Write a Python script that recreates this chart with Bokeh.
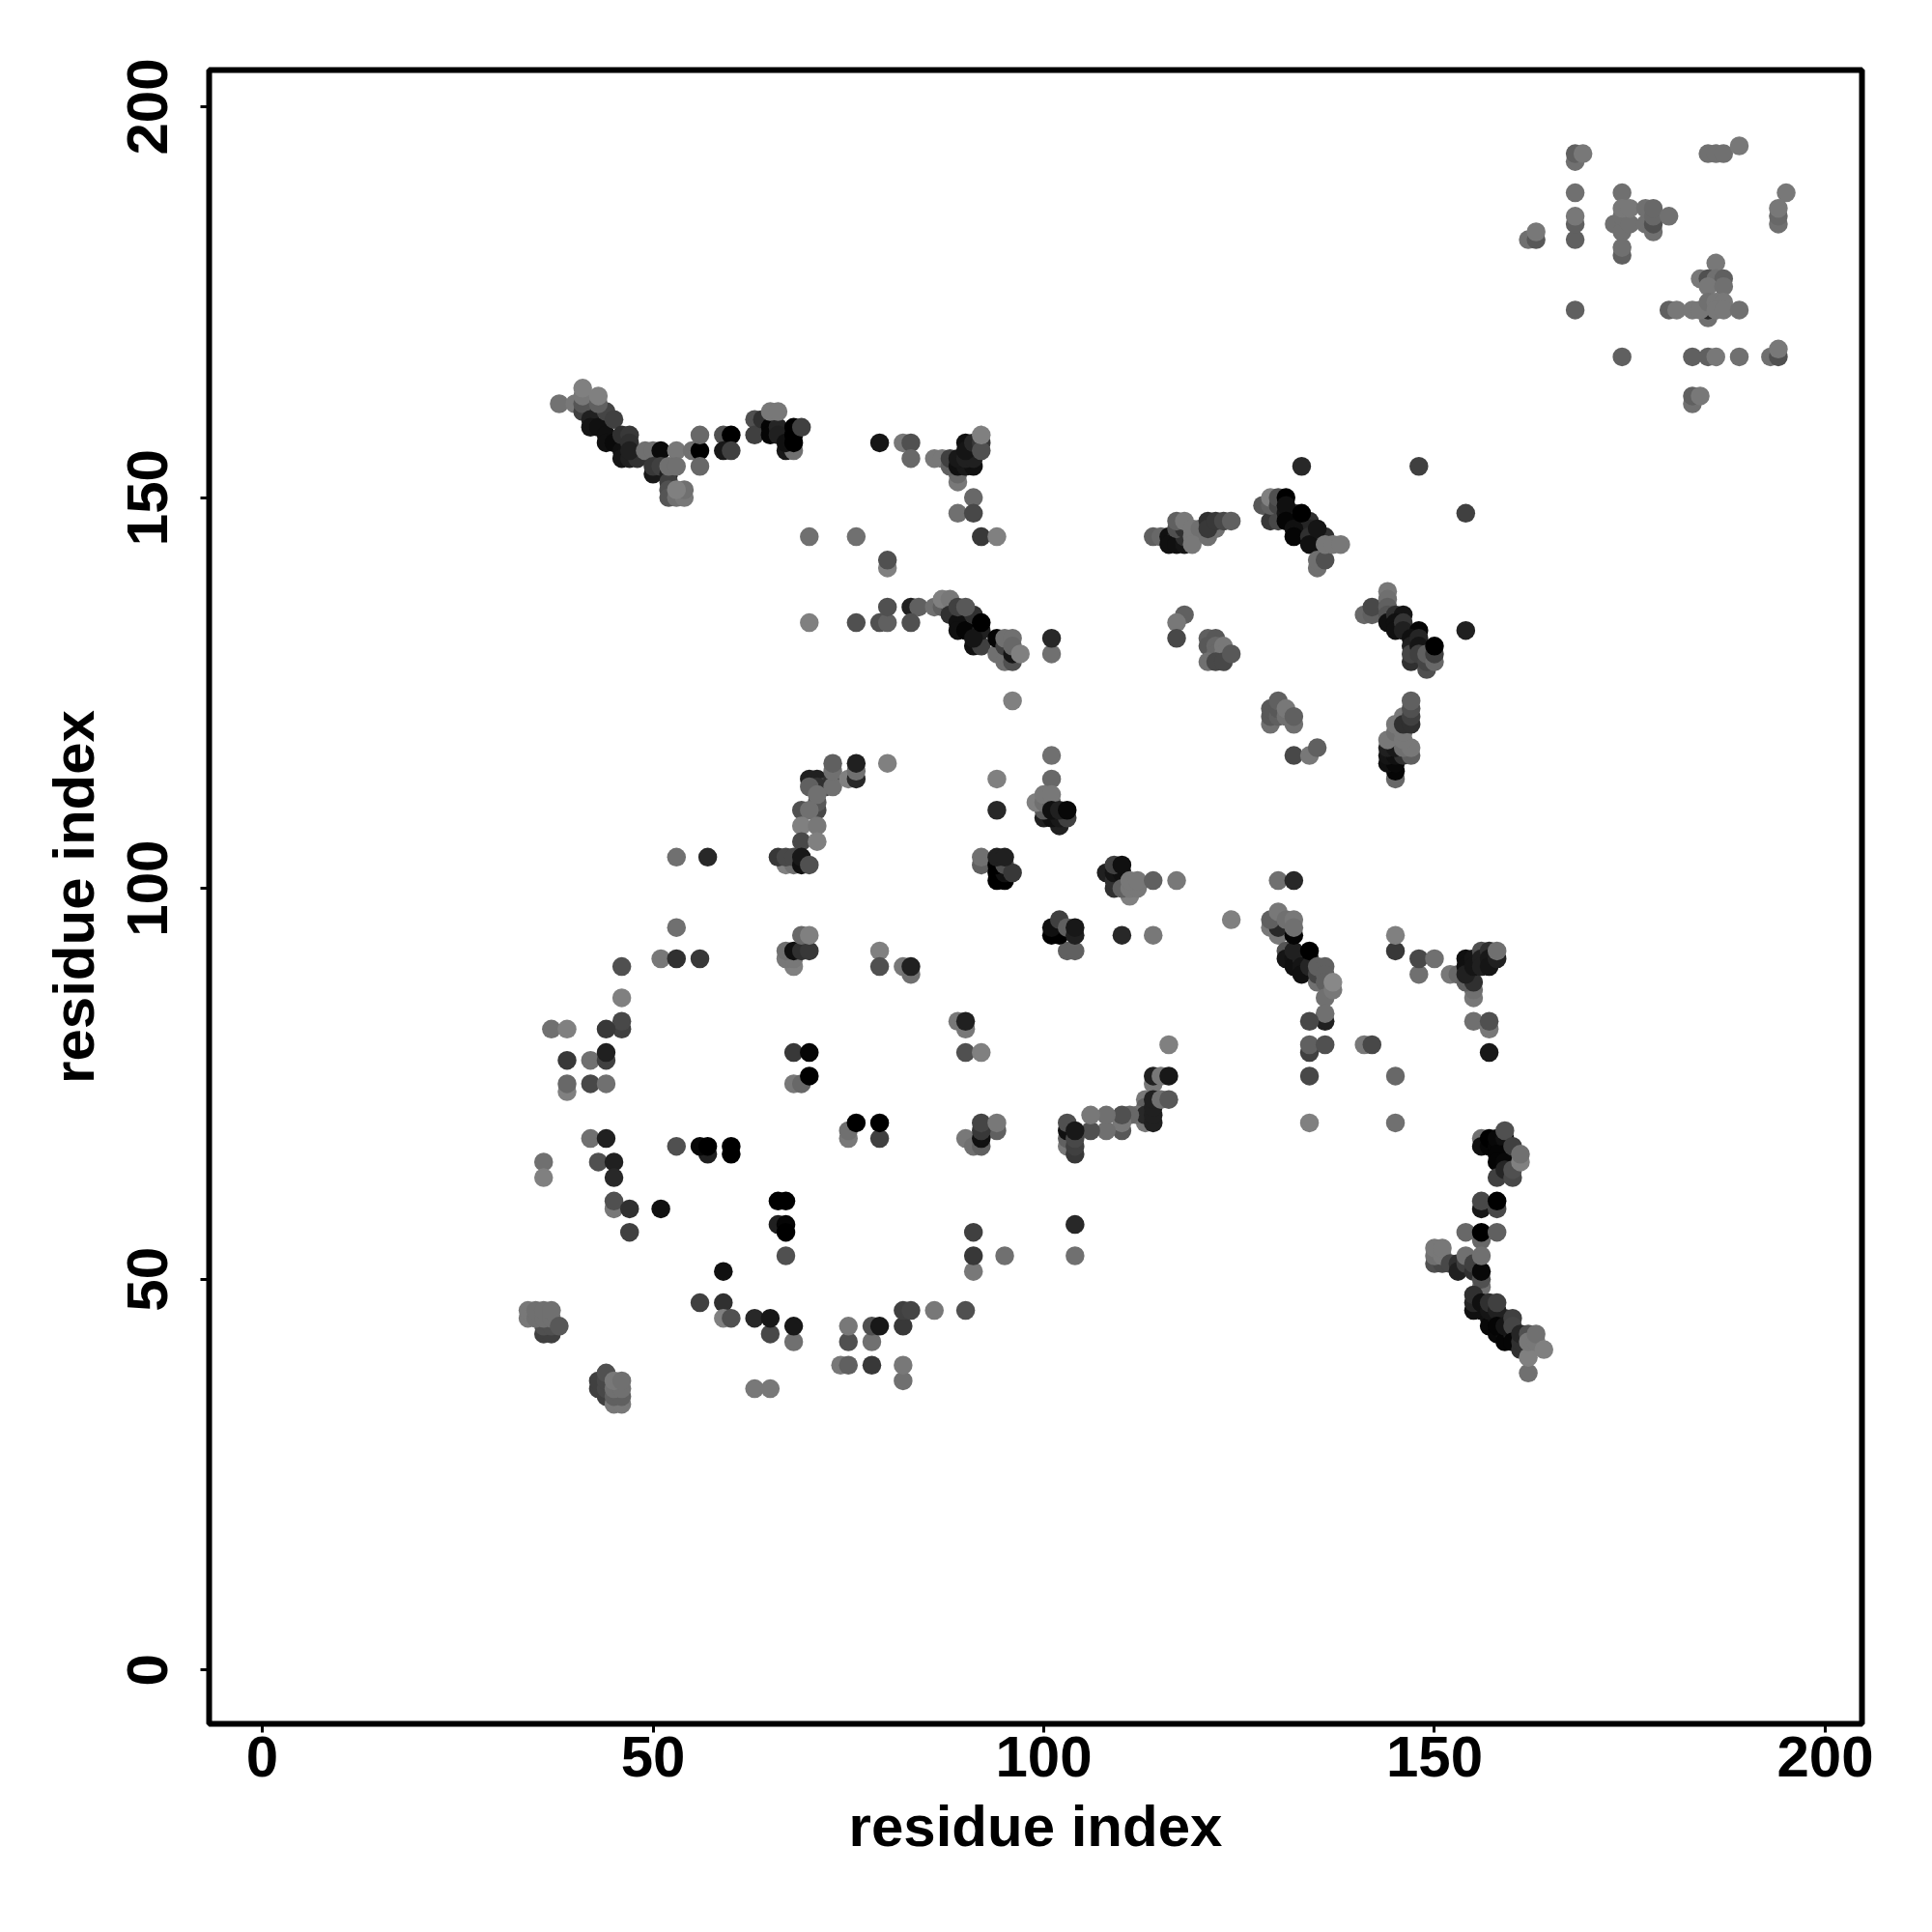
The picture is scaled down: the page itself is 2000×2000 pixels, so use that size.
from bokeh.plotting import figure
from bokeh.models import FixedTicker, Range1d
from bokeh.embed import file_html
from bokeh.resources import INLINE

TICKS = [0, 50, 100, 150, 200]
AXIS_LABEL = "residue index"

# (residue x, residue y, grey level), cluster by cluster
top_left = [(38,162,0x72),(40,162,0x78),(41,161,0x40),(41,162,0x55),(42,160,0x20),(42,159,0x15),(43,159,0x10),(44,158,0x10),
 (44,157,0x10),(45,157,0x0a),(46,156,0x10),(46,155,0x15),(47,155,0x20),(48,155,0x30),(44,161,0x45),(45,160,0x40),(46,158,0x30),(47,158,0x38),(47,157,0x30),(47,156,0x20),
 (41,163,0x78),(41,164,0x80),(43,162,0x60),(43,163,0x80),(49,156,0x70),(50,156,0x70),(51,156,0x0a),(53,156,0x78),(55,156,0x70),
 (56,156,0x00),(56,158,0x68),(56,154,0x68),(59,158,0x50),(60,158,0x00),(59,156,0x18),(60,156,0x40),
 (50,153,0x18),(50,154,0x38),(51,154,0x40),(52,153,0x20),(52,152,0x40),(52,151,0x50),(52,150,0x55),(52,154,0x70),(53,154,0x70),(53,150,0x70),(54,150,0x78),(54,151,0x70),(53,151,0x80)]
top_mid = [(63,160,0x50),(63,158,0x40),(64,160,0x30),(65,159,0x05),(65,158,0x05),(66,159,0x25),(66,158,0x20),(67,156,0x18),(68,156,0x70),(67,157,0x10),(68,157,0x00),(68,158,0x00),(68,159,0x00),(69,159,0x40),(65,161,0x78),(66,161,0x78)]
top_v = [(79,157,0x15),(82,157,0x78),(83,157,0x50),(83,155,0x68),(86,155,0x78),(87,155,0x78),(89,152,0x78),(89,153,0x68),(88,154,0x60),(88,155,0x40),
 (89,154,0x10),(90,154,0x18),(91,154,0x10),(89,155,0x18),(90,155,0x20),(91,155,0x20),(90,157,0x10),(90,156,0x15),(91,157,0x28),(92,157,0x38),(92,156,0x50),(92,158,0x80),
 (91,150,0x68),(89,148,0x70),(91,148,0x48),(92,145,0x38),(94,145,0x80),(70,145,0x70),(76,145,0x70),(80,141,0x80),(80,142,0x50)]
row_134 = [(70,134,0x80),(76,134,0x50),(79,134,0x50),(80,134,0x60),(80,136,0x50),(83,136,0x20),(84,136,0x60),(83,134,0x50),(86,136,0x70),
 (87,136,0x60),(88,136,0x50),(87,137,0x80),(88,137,0x78),(88,135,0x30),(89,134,0x10),(89,133,0x10),(90,133,0x05),(91,131,0x10),(92,131,0x40),(91,135,0x30),(92,133,0x20),(91,132,0x15),(92,134,0x00),(89,136,0x40),(90,136,0x58),
 (94,130,0x70),(95,129,0x70),(96,129,0x50),(94,132,0x05),(95,131,0x40),(96,130,0x15),(95,132,0x70),(96,132,0x70),(96,131,0x68),(97,130,0x80),
 (101,130,0x70),(101,132,0x28),(96,124,0x80)]
mid_145 = [(133,154,0x28),(148,154,0x40),(154,148,0x40),(154,133,0x20),(114,145,0x60),(115,145,0x68),(116,145,0x10),(117,145,0x20),(116,144,0x10),(117,144,0x10),(118,144,0x15),(118,145,0x30),(117,146,0x50),(118,146,0x30),
 (117,147,0x60),(118,147,0x78),(119,145,0x78),(119,146,0x78),(120,146,0x70),(119,144,0x78),(121,145,0x70),(122,146,0x70),(121,147,0x30),(121,146,0x38),(122,147,0x38),(123,147,0x48),(124,147,0x60)]
mid_148 = [(128,149,0x58),(129,147,0x38),(130,147,0x48),(129,149,0x60),(129,150,0x80),(130,149,0x45),(130,150,0x50),(131,148,0x15),(132,148,0x30),(132,147,0x20),(133,147,0x25),(133,146,0x10),(134,147,0x30),(134,146,0x25),(135,145,0x20),(135,144,0x0a),(136,145,0x30),
 (131,150,0x00),(131,149,0x10),(131,147,0x05),(132,146,0x10),(132,145,0x05),(133,148,0x00),(134,145,0x30),(134,144,0x10),(135,146,0x15),
 (135,141,0x70),(135,142,0x70),(136,142,0x50),(136,144,0x78),(137,144,0x78),(138,144,0x78)]
mid_122 = [(129,121,0x70),(132,121,0x70),(129,122,0x58),(129,123,0x58),(130,122,0x60),(130,123,0x58),(130,124,0x60),(131,122,0x70),(131,123,0x78),(132,122,0x60)]
mid_130 = [(118,135,0x60),(117,134,0x78),(117,132,0x48),(121,132,0x60),(122,132,0x58),(121,131,0x58),(122,131,0x68),(122,130,0x68),(123,131,0x78),(123,130,0x78),(121,129,0x70),(122,129,0x48),(123,129,0x48),(124,130,0x58),(132,117,0x48),(134,117,0x78),(135,118,0x60)]
right_132 = [(141,135,0x68),(142,135,0x60),(142,136,0x48),(144,138,0x78),(144,137,0x70),(144,136,0x60),(144,135,0x55),(144,134,0x10),(145,135,0x30),(146,135,0x15),(145,134,0x10),(145,133,0x10),(146,134,0x35),(146,133,0x20),(148,133,0x05),(147,132,0x10),(147,131,0x20),(147,129,0x30),(147,130,0x45),(148,132,0x25),(148,131,0x15),(148,130,0x40),(149,128,0x50),(149,129,0x45),(149,130,0x60),(150,129,0x68),(150,130,0x40),(150,131,0x00)]
right_118 = [(145,114,0x68),(145,115,0x05),(144,116,0x10),(145,116,0x08),(144,117,0x15),(145,117,0x10),(146,117,0x30),(144,118,0x20),(145,118,0x18),(147,117,0x60),(146,118,0x70),(147,118,0x78),(144,119,0x78),(145,120,0x70),(146,119,0x78),(146,120,0x78),(145,121,0x78),(146,122,0x78),(146,121,0x30),(147,121,0x30),(147,122,0x40),(147,123,0x50),(147,124,0x60)]
right_90 = [(130,101,0x70),(132,101,0x28),(129,95,0x78),(130,94,0x78),(130,95,0x28),(129,96,0x60),(131,92,0x55),(131,91,0x15),(132,91,0x12),(132,90,0x10),(133,91,0x25),(134,91,0x30),(132,92,0x20),(132,94,0x05),(130,97,0x78),(131,96,0x70),(132,96,0x78),(132,95,0x70),
 (133,90,0x15),(133,89,0x10),(134,90,0x25),(134,92,0x00),(135,88,0x70),(135,89,0x45),(135,90,0x60),(136,90,0x60),(136,89,0x60),(136,88,0x60),(136,86,0x70),(137,87,0x78),(137,88,0x88),
 (136,83,0x20),(136,84,0x70),(134,83,0x48),(134,79,0x40),(134,80,0x60),(136,80,0x50),(134,76,0x48),(134,70,0x80),(145,92,0x38),(145,94,0x80),(148,89,0x70),(148,91,0x48),(150,91,0x70),(141,80,0x78),(142,80,0x48),(145,76,0x68),(145,70,0x70)]
right_88 = [(152,89,0x78),(153,89,0x68),(155,86,0x78),(155,87,0x70),(154,88,0x60),(155,88,0x30),(154,91,0x10),(154,90,0x10),(154,89,0x20),(155,91,0x15),(155,90,0x15),(156,92,0x50),(156,91,0x20),(156,90,0x20),(157,92,0x30),(157,91,0x18),(157,90,0x15),(158,91,0x20),(158,92,0x70),(155,83,0x70),(157,82,0x78),(157,83,0x50),(157,79,0x18)]
right_66 = [(156,68,0x70),(156,67,0x10),(157,67,0x05),(157,68,0x00),(158,67,0x05),(158,68,0x08),(159,68,0x10),(159,69,0x50),(159,66,0x05),(158,66,0x05),(158,65,0x05),(159,65,0x08),(158,63,0x40),(159,64,0x25),(160,63,0x48),(160,64,0x50),(160,67,0x40),(161,65,0x80),(161,66,0x70),
 (156,59,0x18),(156,60,0x48),(158,59,0x48),(158,60,0x00),(154,56,0x68),(156,55,0x68),(156,56,0x00),(158,56,0x60)]
right_46 = [(150,52,0x50),(151,52,0x48),(150,53,0x70),(150,54,0x78),(151,53,0x78),(151,54,0x78),(152,52,0x48),(153,52,0x30),(153,51,0x20),(154,52,0x40),(154,53,0x70),(155,51,0x30),(155,52,0x40),(156,49,0x70),(156,50,0x50),(156,51,0x08),(156,53,0x70),
 (156,46,0x10),(157,45,0x10),(157,44,0x08),(158,45,0x10),(158,43,0x08),(159,45,0x35),(159,43,0x10),(159,42,0x05),(160,43,0x20),(162,41,0x50),
 (155,46,0x10),(155,47,0x25),(155,48,0x30),(156,47,0x10),(157,46,0x15),(157,47,0x30),(158,46,0x20),(158,47,0x40),(158,44,0x05),(159,44,0x15),(160,45,0x40),(160,44,0x45),(160,42,0x05),(161,41,0x30),(161,42,0x30),(161,43,0x25),(162,43,0x50),
 (162,38,0x70),(162,40,0x80),(162,42,0x78),(163,42,0x78),(163,43,0x70),(164,41,0x80)]
far_right = [(168,193,0x70),(168,194,0x60),(169,194,0x78),(168,189,0x70),(168,183,0x60),(168,185,0x60),(168,186,0x78),(162,183,0x70),(163,183,0x58),(163,184,0x78),(168,174,0x60),
 (174,189,0x70),(174,185,0x30),(173,185,0x70),(174,184,0x70),(174,186,0x70),(175,185,0x70),(174,187,0x78),(175,187,0x78),(174,181,0x60),(174,182,0x70),(177,185,0x70),(177,187,0x70),(178,184,0x70),(178,185,0x50),(178,186,0x68),(178,187,0x68),(180,186,0x70),(174,168,0x60),
 (185,194,0x70),(186,194,0x70),(187,194,0x70),(189,195,0x78),(195,189,0x78),(194,185,0x70),(194,186,0x68),(194,187,0x78),
 (186,180,0x78),(184,178,0x78),(185,178,0x50),(186,178,0x70),(187,178,0x60),(185,177,0x78),(187,177,0x70),(185,173,0x70),(185,174,0x28),(180,174,0x60),(181,174,0x78),(183,174,0x78),(184,174,0x78),(185,175,0x70),(186,175,0x78),(187,175,0x78),(186,174,0x78),(187,174,0x78),(189,174,0x70),
 (183,168,0x60),(185,168,0x60),(186,168,0x78),(189,168,0x70),(193,168,0x70),(194,168,0x50),(194,169,0x78),(183,162,0x70),(183,163,0x60),(184,163,0x78)]
low_left = [(36,65,0x70),(36,63,0x80),(42,68,0x70),(44,68,0x20),(43,65,0x50),(45,65,0x20),(45,63,0x28),(45,59,0x78),(45,60,0x50),(47,59,0x30),(51,59,0x10),(47,56,0x40),
 (53,67,0x50),(57,66,0x20),(56,67,0x08),(57,67,0x00),(60,67,0x00),(60,66,0x00),(66,60,0x00),(67,60,0x00),(66,57,0x20),(67,57,0x05),(67,56,0x00),(67,53,0x50),(59,51,0x10),(56,47,0x40),(59,47,0x30),(59,45,0x80),(60,45,0x50),(63,45,0x28),(65,43,0x48),(65,45,0x18),(68,42,0x70),(68,44,0x18),(63,36,0x78),(65,36,0x78),
 (36,43,0x40),(37,43,0x40),(36,44,0x50),(37,44,0x50),(34,45,0x78),(34,46,0x78),(35,45,0x70),(35,46,0x70),(36,45,0x70),(36,46,0x70),(37,45,0x70),(37,46,0x70),(38,44,0x58),
 (43,36,0x40),(43,37,0x40),(44,35,0x40),(44,36,0x48),(44,37,0x48),(44,38,0x50),(45,34,0x78),(46,34,0x78),(45,35,0x60),(46,35,0x60),(45,36,0x70),(46,36,0x70),(45,37,0x78),(46,37,0x70),
 (75,42,0x50),(75,44,0x78),(78,42,0x70),(78,44,0x50),(79,44,0x18),(82,44,0x38),(82,46,0x40),(83,46,0x45),(86,46,0x78),(90,46,0x50),(74,39,0x78),(75,39,0x60),(78,39,0x38),(82,37,0x70),(82,39,0x78),
 (75,68,0x78),(75,69,0x70),(76,70,0x00),(79,68,0x40),(79,70,0x00),(90,68,0x78),(91,67,0x70),(92,67,0x60),(94,69,0x60),(92,68,0x10),(92,69,0x38),(92,70,0x45),(94,70,0x78),
 (91,56,0x40),(91,51,0x78),(91,53,0x38),(95,53,0x70),(104,57,0x28),(104,53,0x70)]
mid_left = [(71,114,0x20),(70,114,0x20),(72,113,0x48),(71,113,0x30),(70,113,0x60),(73,114,0x30),(73,113,0x70),(71,110,0x48),(71,111,0x58),(71,112,0x70),(69,110,0x50),(70,110,0x70),(69,108,0x80),(71,108,0x78),(69,106,0x48),(71,106,0x80),
 (73,115,0x70),(73,116,0x60),(75,114,0x80),(76,114,0x28),(76,115,0x70),(76,116,0x20),(80,116,0x80),
 (67,103,0x80),(68,103,0x70),(66,104,0x38),(67,104,0x48),(68,104,0x48),(69,103,0x10),(69,104,0x18),(70,103,0x50),(53,104,0x70),(57,104,0x28),
 (53,95,0x70),(51,91,0x78),(53,91,0x30),(56,91,0x38),(68,90,0x80),(67,91,0x78),(68,91,0x78),(67,92,0x70),(68,92,0x10),(69,92,0x30),(70,92,0x38),(69,94,0x68),(70,94,0x80),
 (79,92,0x80),(79,90,0x50),(82,90,0x78),(83,89,0x70),(83,90,0x20),(46,90,0x50),(46,86,0x80),(46,82,0x40),(46,83,0x48),(44,82,0x38),(37,82,0x70),(39,82,0x80),
 (39,78,0x38),(42,78,0x70),(44,78,0x40),(44,79,0x20),(39,74,0x80),(39,75,0x68),(42,75,0x48),(44,75,0x70),(68,79,0x38),(70,79,0x05),(68,75,0x78),(69,75,0x68),(70,76,0x00),
 (89,83,0x78),(90,82,0x78),(90,83,0x20),(90,79,0x50),(92,79,0x80)]
centre = [(101,117,0x70),(101,114,0x68),(94,114,0x80),(94,110,0x28),(102,108,0x20),(100,109,0x20),(101,109,0x10),(102,109,0x18),(103,109,0x40),(100,110,0x58),(99,111,0x80),(100,111,0x70),(101,111,0x60),(100,112,0x78),(101,112,0x78),(101,110,0x10),(102,110,0x20),(103,110,0x08),
 (92,103,0x60),(92,104,0x70),(94,101,0x00),(95,101,0x00),(94,102,0x00),(95,102,0x10),(94,103,0x00),(95,103,0x50),(96,102,0x38),(94,104,0x20),(95,104,0x20),
 (109,100,0x30),(108,102,0x20),(109,101,0x30),(109,102,0x15),(110,102,0x10),(109,103,0x40),(110,103,0x10),(111,99,0x80),(110,100,0x60),(111,100,0x78),(112,100,0x78),(111,101,0x78),(112,101,0x78),(114,101,0x60),(117,101,0x78),
 (103,92,0x60),(104,92,0x60),(101,94,0x00),(102,94,0x00),(101,95,0x10),(102,96,0x40),(103,95,0x60),(104,94,0x20),(104,95,0x18),(110,94,0x28),(114,94,0x78),(124,96,0x80)]
centre_low = [(116,80,0x80),(114,75,0x78),(114,76,0x20),(115,76,0x78),(116,76,0x18),(113,70,0x78),(113,73,0x78),(113,72,0x60),(112,71,0x70),(113,71,0x28),(114,70,0x20),(114,71,0x20),(114,72,0x20),(114,73,0x20),(115,73,0x70),(116,73,0x58),
 (111,71,0x68),(110,69,0x58),(110,70,0x78),(110,71,0x50),(108,69,0x70),(108,71,0x70),(106,69,0x50),(106,71,0x78),(103,67,0x78),(103,68,0x60),(103,69,0x10),(103,70,0x50),(104,66,0x38),(104,67,0x40),(104,68,0x48),(104,69,0x18)]

clusters = [top_left, top_mid, top_v, row_134, mid_145, mid_148, mid_122, mid_130, right_132, right_118, right_90, right_88, right_66, right_46, far_right, low_left, mid_left, centre, centre_low]
residue_x = [c[0] for cl in clusters for c in cl]
residue_y = [c[1] for cl in clusters for c in cl]
grey = ["#%02x%02x%02x" % (c[2], c[2], c[2]) for cl in clusters for c in cl]

p = figure(width=1985, height=1968, output_backend="svg", toolbar_location=None,
           x_range=Range1d(-6.8, 204.7), y_range=Range1d(-6.88, 204.7),
           frame_width=1711, frame_height=1712,
           min_border_left=216, min_border_top=72, min_border_right=58, min_border_bottom=184,
           background_fill_color="white", border_fill_color="white")
p.grid.visible = False
p.outline_line_color = "black"
p.outline_line_width = 6

p.scatter(residue_x, residue_y, size=19.5, fill_color=grey, line_color=None, marker="circle")

for ax in (p.xaxis[0], p.yaxis[0]):
    ax.ticker = FixedTicker(ticks=TICKS)
    ax.axis_label = AXIS_LABEL
    ax.axis_line_color = None
    ax.minor_tick_line_color = None
    ax.major_tick_in = 0
    ax.major_tick_out = 9
    ax.major_tick_line_width = 3
    ax.major_tick_line_color = "black"
    ax.major_label_text_font = "Liberation Sans"
    ax.major_label_text_font_style = "bold"
    ax.major_label_text_font_size = "60px"
    ax.major_label_text_color = "black"
    ax.axis_label_text_font = "Liberation Sans"
    ax.axis_label_text_font_style = "bold"
    ax.axis_label_text_font_size = "60px"
    ax.axis_label_text_color = "black"
p.yaxis[0].major_label_orientation = "vertical"
p.xaxis[0].major_label_standoff = 4
p.yaxis[0].major_label_standoff = 34
p.xaxis[0].axis_label_standoff = 15
p.yaxis[0].axis_label_standoff = 20

open("out.html", "w").write(file_html(p, INLINE))
